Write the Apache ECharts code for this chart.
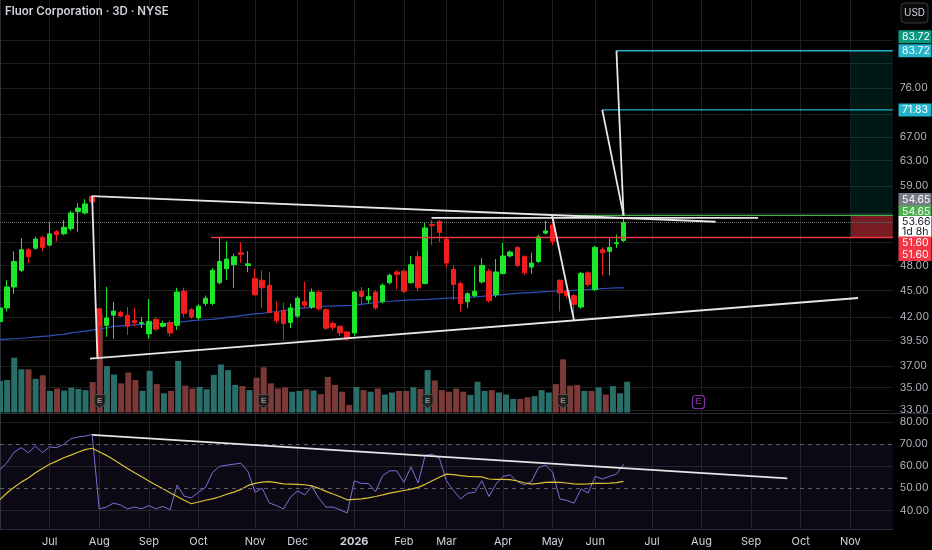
<!DOCTYPE html>
<html lang="en">
<head>
<meta charset="UTF-8">
<title>Fluor Corporation · 3D · NYSE</title>
<script src="https://cdn.jsdelivr.net/npm/echarts@6.0.0/dist/echarts.min.js"></script>
<style>
    html, body { margin: 0; padding: 0; background: #000; }
    #chart { width: 932px; height: 550px; }
</style>
</head>
<body>
<div id="chart"></div>
<script type="text/javascript">
// 3D bars, [open, close, low, high]
var ohlc = [
    [41.5, 43.0, 41.0, 43.3], [43.0, 45.4, 42.6, 46.2], [45.4, 48.5, 44.6, 49.8], [47.4, 50.0, 47.2, 51.5],
    [50.0, 49.1, 48.3, 50.2], [50.2, 51.4, 50.0, 51.7], [51.6, 50.3, 49.8, 51.8], [50.6, 52.1, 50.4, 53.7],
    [52.4, 52.0, 51.1, 52.6], [52.1, 53.0, 51.9, 54.0], [52.8, 55.0, 52.5, 55.3], [55.2, 55.7, 52.4, 56.4],
    [55.0, 56.3, 54.8, 57.0], [57.4, 56.6, 56.3, 57.6], [42.9, 41.1, 37.8, 43.0], [41.1, 41.9, 39.9, 45.4],
    [42.2, 42.65, 39.7, 43.7], [42.5, 42.1, 42.0, 42.7], [42.2, 41.0, 40.1, 43.1], [41.6, 41.4, 41.0, 43.0],
    [41.3, 41.4, 40.8, 42.0], [40.2, 41.5, 39.7, 44.0], [41.75, 40.7, 40.5, 42.0], [41.0, 41.3, 40.9, 41.6],
    [41.4, 40.3, 39.9, 41.6], [41.1, 44.8, 40.6, 45.3], [44.9, 42.4, 42.0, 45.3], [42.8, 42.0, 41.8, 43.0],
    [41.9, 43.2, 41.7, 43.4], [43.5, 44.1, 43.2, 44.4], [43.5, 47.4, 43.3, 47.7], [45.9, 48.5, 45.7, 51.7],
    [47.6, 48.8, 46.2, 51.1], [48.1, 49.1, 45.3, 49.5], [49.6, 49.4, 48.3, 51.0], [48.0, 48.2, 47.2, 49.8],
    [46.4, 44.5, 44.4, 47.6], [46.2, 45.3, 43.0, 47.4], [45.6, 42.5, 42.4, 47.2], [42.5, 41.6, 41.3, 43.7],
    [42.7, 41.3, 39.6, 43.6], [41.4, 43.0, 40.8, 43.5], [42.1, 44.1, 41.9, 44.3], [43.7, 43.3, 43.0, 46.0],
    [43.1, 44.8, 42.9, 45.2], [44.8, 42.9, 42.7, 45.0], [42.8, 40.8, 40.6, 43.0], [41.3, 40.9, 40.6, 41.5],
    [41.0, 40.3, 40.0, 41.1], [40.4, 39.7, 39.5, 40.5], [40.3, 44.8, 40.0, 44.9], [44.9, 44.3, 43.3, 45.4],
    [43.9, 44.3, 43.5, 45.3], [44.8, 43.0, 42.8, 45.0], [43.7, 45.6, 43.5, 45.8], [45.9, 46.8, 45.7, 47.0],
    [47.2, 46.9, 45.1, 47.4], [47.3, 44.9, 44.7, 47.5], [45.9, 48.1, 45.8, 49.2], [49.1, 45.3, 44.9, 49.8],
    [45.8, 52.9, 45.7, 53.6], [53.4, 53.2, 50.6, 54.0], [53.8, 52.3, 51.0, 54.0], [51.4, 48.3, 47.7, 51.6],
    [47.5, 45.7, 43.9, 48.0], [45.8, 43.5, 42.6, 46.0], [43.7, 44.6, 43.0, 44.8], [44.4, 44.9, 44.2, 47.9],
    [46.0, 48.0, 45.8, 48.9], [47.3, 43.8, 43.6, 47.6], [44.5, 47.2, 44.2, 48.8], [47.0, 49.2, 46.9, 50.9],
    [49.2, 49.7, 49.0, 49.9], [50.3, 48.0, 47.8, 50.5], [49.1, 47.1, 46.8, 49.3], [47.8, 48.3, 47.0, 49.6],
    [48.5, 51.7, 48.3, 52.0], [52.2, 52.5, 52.0, 53.9], [53.3, 51.1, 50.6, 54.4], [46.2, 44.7, 42.6, 46.3],
    [44.9, 44.4, 44.1, 45.1], [44.4, 43.4, 41.8, 44.6], [43.1, 47.0, 42.9, 47.2], [47.1, 45.7, 45.4, 47.3],
    [45.1, 50.3, 44.9, 50.5], [50.0, 49.6, 46.8, 50.3], [49.8, 50.3, 46.8, 51.5], [50.8, 50.9, 50.2, 52.0],
    [51.2, 53.66, 51.0, 54.2]
];

// volume, millions of shares
var volume = [
    7.9, 8.1, 13.7, 10.8, 10.8, 8.4, 9.3, 5.4, 6.0, 5.5, 6.2, 5.9, 5.6, 7.6, 24.6, 11.6,
    9.5, 7.3, 10.0, 8.1, 5.4, 10.4, 7.1, 4.8, 5.4, 12.9, 6.7, 6.0, 6.4, 5.8, 9.4, 12.0,
    10.6, 6.9, 6.6, 5.6, 8.7, 11.3, 7.3, 6.0, 6.3, 5.2, 5.4, 5.8, 5.5, 4.6, 8.9, 6.9,
    5.2, 1.9, 6.4, 5.6, 5.2, 6.0, 4.5, 5.0, 5.4, 5.4, 6.3, 5.9, 10.6, 8.0, 5.6, 5.2,
    6.0, 5.2, 4.4, 7.7, 5.4, 5.6, 5.0, 4.5, 3.4, 3.4, 3.8, 4.1, 5.6, 5.0, 7.1, 13.3,
    6.7, 6.9, 5.4, 5.4, 6.3, 4.5, 6.6, 4.8, 7.7
];

// moving average drawn on the price pane
var maLine = [
    39.6, 39.65, 39.7, 39.75, 39.8, 39.9, 39.95, 40.0, 40.1, 40.15, 40.3, 40.4, 40.5, 40.6, 40.7,
    40.85, 41.0, 41.05, 41.1, 41.15, 41.2, 41.25, 41.3, 41.3, 41.35, 41.45, 41.5, 41.6, 41.65, 41.7,
    41.75, 41.85, 41.95, 42.05, 42.15, 42.25, 42.35, 42.4, 42.5, 42.6, 42.7, 42.8, 42.9, 43.0, 43.05,
    43.1, 43.2, 43.2, 43.25, 43.25, 43.3, 43.4, 43.5, 43.6, 43.7, 43.75, 43.8, 43.85, 43.9, 43.9,
    43.95, 44.0, 44.05, 44.1, 44.1, 44.15, 44.2, 44.25, 44.3, 44.4, 44.45, 44.5, 44.6, 44.65, 44.7,
    44.75, 44.8, 44.85, 44.9, 44.9, 44.95, 45.0, 45.05, 45.1, 45.15, 45.2, 45.25, 45.3, 45.3
];

var rsi = [
    58.4, 61.7, 66.4, 68.4, 66.1, 69.1, 66.1, 68.7, 68.4, 69.9, 72.4, 73.2, 73.6, 74.4, 40.7,
    41.5, 43.3, 42.5, 40.7, 41.5, 40.7, 42.2, 40.7, 41.8, 40.3, 51.5, 46.4, 45.7, 48.2, 50.4,
    57.2, 59.9, 60.5, 60.9, 61.4, 57.5, 48.2, 50.0, 43.4, 42.2, 40.7, 46.0, 48.8, 47.0, 50.9,
    45.5, 41.5, 41.5, 40.3, 38.8, 53.4, 52.2, 52.2, 48.5, 55.7, 57.9, 57.9, 52.7, 59.7, 52.4,
    64.9, 65.4, 63.6, 53.4, 49.0, 45.2, 47.8, 48.2, 53.4, 46.3, 51.9, 55.4, 56.1, 53.1, 51.5,
    53.0, 59.4, 60.5, 57.2, 45.2, 44.5, 43.3, 49.7, 47.9, 55.4, 54.2, 55.4, 56.4, 60.9
];

var rsiMa = [
    44.9, 48.0, 50.5, 52.8, 54.7, 57.0, 59.0, 60.9, 62.3, 63.8, 65.0, 66.3, 67.5, 68.1, 66.5,
    64.9, 63.0, 61.0, 59.0, 57.0, 55.2, 53.3, 51.5, 49.8, 48.0, 46.3, 44.6, 43.0, 43.8, 44.6,
    45.2, 46.2, 47.3, 48.3, 49.5, 51.3, 52.2, 52.8, 53.0, 52.6, 52.0, 51.9, 51.8, 51.6, 51.1,
    50.0, 48.6, 47.4, 46.2, 44.8, 45.0, 45.2, 45.7, 46.3, 47.0, 47.8, 48.4, 49.0, 49.6, 50.4,
    51.8, 53.4, 55.0, 56.4, 56.2, 55.7, 55.4, 55.3, 55.2, 54.2, 54.0, 54.0, 53.9, 53.3, 52.5,
    51.9, 52.2, 52.7, 52.8, 52.7, 52.4, 52.0, 51.9, 52.0, 52.2, 52.2, 52.3, 52.6, 53.1
];

// bar index -> time axis label
var monthTicks = {
    7: 'Jul', 14: 'Aug', 21: 'Sep', 28: 'Oct', 36: 'Nov', 42: 'Dec', 50: '2026', 57: 'Feb', 63: 'Mar',
    71: 'Apr', 78: 'May', 84: 'Jun', 92: 'Jul', 99: 'Aug', 106: 'Sep', 113: 'Oct', 120: 'Nov'
};
var priceLabels = [33, 35, 37, 39.5, 42, 45, 48, 59, 63, 67, 76];
var priceGrid = [33, 35, 37, 39.5, 42, 45, 48, 51, 55, 59, 63, 67, 71, 76, 81, 86];
var rsiLabels = [40, 50, 60, 70, 80];
var rsiGrid = [40, 60, 80];

// position tool levels
var target = 83.72, target2 = 71.83, entry = 54.65, lastPrice = 53.66, stop = 51.60;

// drawings as [bar index, price]
var channelTop = [[13, 57.46], [101, 53.76]];
var channelBottom = [[12.7, 37.7], [121.1, 44.12]];
var gapDrop = [[13, 57.46], [13.75, 37.7]];
var rangeTop = [[60.9, 54.3], [107, 54.3]];
var mayDrop = [[77.9, 54.7], [81, 41.67]];
var projHigh = [[88, entry], [87, target]];
var projLow = [[88, entry], [85, target2]];
var rsiTrend = [[13, 74.2], [111.1, 54.5]];
var earnings = [14, 37, 60, 79];
var nextEarnings = [98];

var NBARS = 127;
var holidays = ['2025-06-19', '2025-07-04', '2025-09-01', '2025-11-27', '2025-12-25', '2026-01-01',
    '2026-01-19', '2026-02-16', '2026-04-03', '2026-05-25', '2026-06-19', '2026-07-03', '2026-09-07', '2026-11-26'];
var dates = [];
(function () {
    var d = new Date(Date.UTC(2025, 5, 2)), n = 0;
    while (dates.length < NBARS) {
        var s = d.toISOString().slice(0, 10), wd = d.getUTCDay();
        if (wd > 0 && wd < 6 && holidays.indexOf(s) < 0) {
            if (n % 3 === 0) dates.push(s);
            n++;
        }
        d.setUTCDate(d.getUTCDate() + 1);
    }
})();

var UP = '#1ee62d', DOWN = '#f21d1d';
var GRIDC = '#1e1e1e', TXT = '#b2b5be', FONT = 'Inter, sans-serif';
var SHIELD = 'path://M1,0 L9,0 Q10,0 10,1 L10,9 L5,13 L0,9 L0,1 Q0,0 1,0 Z';
var isMonth = function (i) { return monthTicks[i] !== undefined; };

var volData = volume.map(function (v, i) {
    var up = ohlc[i][1] >= ohlc[i][0];
    return { value: v, itemStyle: { color: up ? '#2a6e69' : '#7b3938' } };
});

function seg(points, color, width, type, z) {
    return {
        type: 'line', xAxisIndex: 1, yAxisIndex: 0, data: points, symbol: 'none', silent: true,
        lineStyle: { color: color, width: width, type: type || 'solid' }, z: z || 6
    };
}
var END = NBARS - 1;

var chart = echarts.init(document.getElementById('chart'));
var option = {
    backgroundColor: '#000',
    animation: false,
    grid: [
        { left: 0, right: 34, top: 0, height: 413 },
        { left: 0, right: 34, top: 308.5, height: 104 },
        { left: 0, right: 34, top: 414, height: 115 }
    ],
    xAxis: [
        { type: 'category', gridIndex: 0, data: dates, boundaryGap: false,
          axisLine: { show: false }, axisTick: { show: false }, axisLabel: { show: false },
          splitLine: { show: true, interval: isMonth, lineStyle: { color: GRIDC } } },
        { type: 'value', gridIndex: 0, min: 0, max: END, show: false },
        { type: 'category', gridIndex: 1, data: dates, boundaryGap: false, show: false },
        { type: 'category', gridIndex: 2, data: dates, boundaryGap: false,
          axisLine: { show: true, lineStyle: { color: '#2a2e39' } }, axisTick: { show: false },
          axisLabel: {
              interval: isMonth, color: '#d1d4dc', fontSize: 11, fontFamily: FONT, margin: 7,
              formatter: function (v, i) {
                  var t = monthTicks[i] || '';
                  return t === '2026' ? '{b|2026}' : t;
              },
              rich: { b: { fontWeight: 'bold', color: '#d1d4dc', fontSize: 11, fontFamily: FONT } }
          },
          splitLine: { show: true, interval: isMonth, lineStyle: { color: GRIDC } } },
        { type: 'value', gridIndex: 2, min: 0, max: END, show: false }
    ],
    yAxis: [
        { type: 'log', gridIndex: 0, position: 'right', min: 32.75, max: 95.5,
          axisLine: { show: true, lineStyle: { color: '#2a2e39' } },
          axisTick: { show: false, customValues: priceGrid },
          axisLabel: { customValues: priceLabels, color: TXT, fontSize: 10.5, fontFamily: FONT, margin: 7,
                       formatter: function (v) { return v.toFixed(2); } },
          splitLine: { show: true, lineStyle: { color: GRIDC } } },
        { type: 'value', gridIndex: 1, min: 0, max: 26, show: false },
        { type: 'value', gridIndex: 2, position: 'right', min: 31.6, max: 83.6,
          axisLine: { show: true, lineStyle: { color: '#2a2e39' } },
          axisTick: { show: false, customValues: rsiGrid },
          axisLabel: { customValues: rsiLabels, color: TXT, fontSize: 10.5, fontFamily: FONT, margin: 7,
                       formatter: function (v) { return v.toFixed(2); } },
          splitLine: { show: true, lineStyle: { color: GRIDC } } }
    ],
    series: [
        { type: 'bar', xAxisIndex: 2, yAxisIndex: 1, data: volData, barWidth: 6, z: 1, silent: true },
        { type: 'scatter', xAxisIndex: 2, yAxisIndex: 1, data: earnings.map(function (k) { return [k, 0]; }),
          symbol: SHIELD, symbolSize: [11, 14], symbolOffset: [0, -11], z: 4, silent: true,
          itemStyle: { color: '#1a1a1a', borderColor: '#555', borderWidth: 1 },
          label: { show: true, formatter: 'E', color: '#a8a8a8', fontSize: 8, fontWeight: 'bold',
                   position: 'inside', offset: [0, -1] } },
        { type: 'scatter', xAxisIndex: 2, yAxisIndex: 1, data: nextEarnings.map(function (k) { return [k, 0]; }),
          symbol: 'roundRect', symbolSize: [12, 13], symbolOffset: [0, -10.5], z: 4, silent: true,
          itemStyle: { color: '#000', borderColor: '#a43bd0', borderWidth: 1.2 },
          label: { show: true, formatter: 'E', color: '#b548e0', fontSize: 9, position: 'inside' } },
        { type: 'line', xAxisIndex: 0, yAxisIndex: 0, data: maLine, symbol: 'none', silent: true,
          lineStyle: { color: '#2f4fb8', width: 1.2 }, z: 3 },
        { type: 'candlestick', xAxisIndex: 0, yAxisIndex: 0, data: ohlc, barWidth: 5, z: 5, silent: true,
          itemStyle: { color: UP, color0: DOWN, borderColor: UP, borderColor0: DOWN, borderWidth: 1 } },
        // position tool zones
        { type: 'line', xAxisIndex: 1, yAxisIndex: 0, data: [], silent: true, z: 2,
          markArea: { silent: true, data: [
              [{ coord: [120.1, entry], itemStyle: { color: 'rgba(8,153,129,0.16)' } }, { coord: [END, target] }],
              [{ coord: [120.1, stop], itemStyle: { color: 'rgba(242,54,69,0.5)' } }, { coord: [END, entry] }]
          ] } },
        seg([[0, lastPrice], [END, lastPrice]], '#6f6f6f', 1, 'dotted', 4),
        seg([[29.8, stop], [END, stop]], '#f23645', 1.6),
        seg([[77.9, entry], [END, entry]], '#4caf50', 1.3),
        seg([[87, target], [END, target]], '#26b3c9', 1.4),
        seg([[85, target2], [END, target2]], '#26b3c9', 1.4),
        seg(channelTop, '#e6e6e6', 1.8),
        seg(channelBottom, '#e6e6e6', 1.8),
        seg(gapDrop, '#e6e6e6', 1.8),
        seg(rangeTop, '#e6e6e6', 1.8),
        seg(mayDrop, '#e6e6e6', 1.8),
        seg(projHigh, '#e6e6e6', 1.8),
        seg(projLow, '#e6e6e6', 1.8),
        { type: 'line', xAxisIndex: 3, yAxisIndex: 2, data: rsi, symbol: 'none', silent: true, z: 4,
          lineStyle: { color: '#7e6fd6', width: 1 },
          markArea: { silent: true, itemStyle: { color: 'rgba(126,87,194,0.1)' }, data: [[{ yAxis: 70 }, { yAxis: 30 }]] },
          markLine: { silent: true, symbol: 'none', label: { show: false },
                      lineStyle: { color: '#5d6069', type: [4, 4], width: 1 },
                      data: [{ yAxis: 70 }, { yAxis: 50 }, { yAxis: 30 }] } },
        { type: 'line', xAxisIndex: 3, yAxisIndex: 2, data: rsiMa, symbol: 'none', silent: true, z: 4,
          lineStyle: { color: '#d8c236', width: 1.2 } },
        { type: 'line', xAxisIndex: 4, yAxisIndex: 2, data: rsiTrend, symbol: 'none', silent: true, z: 6,
          lineStyle: { color: '#e6e6e6', width: 1.8 } }
    ]
};
chart.setOption(option);

// right-scale price tags, placed from the price axis
var priceTags = [
    { value: target, text: '83.72', bg: '#089981', color: '#fff', dy: -14, h: 13 },
    { value: target, text: '83.72', bg: '#22b5cc', color: '#fff', dy: 0, h: 13 },
    { value: target2, text: '71.83', bg: '#22b5cc', color: '#fff', dy: 0, h: 13 },
    { value: entry, text: '54.65', bg: '#787b86', color: '#fff', dy: -16, h: 13 },
    { value: entry, text: '54.65', bg: '#4caf50', color: '#fff', dy: -4, h: 12 },
    { value: lastPrice, text: '53.66\n1d 8h', bg: '#ffffff', color: '#131722', dy: 4.5, h: 22 },
    { value: stop, text: '51.60', bg: '#f23645', color: '#fff', dy: 5, h: 12 },
    { value: stop, text: '51.60', bg: '#f23645', color: '#fff', dy: 17, h: 13 }
];
var tags = [];
priceTags.forEach(function (t) {
    var y = chart.convertToPixel({ yAxisIndex: 0 }, t.value) + t.dy;
    tags.push({ type: 'rect', z: 100, shape: { x: 898.5, y: y - t.h / 2, width: 33, height: t.h },
                style: { fill: t.bg } });
    tags.push({ type: 'text', x: 902, y: y, z: 101,
                style: { text: t.text, fill: t.color, fontSize: 10.5, fontFamily: FONT, lineHeight: 10.5,
                         align: 'left', verticalAlign: 'middle' } });
});
chart.setOption({
    graphic: [
        { type: 'text', x: 5, y: 6, z: 100,
          style: { text: 'Fluor Corporation · 3D · NYSE', fill: '#d1d4dc', fontSize: 11.5, fontWeight: 600, fontFamily: FONT } },
        { type: 'rect', shape: { x: 901, y: 3, width: 27, height: 20, r: 4 }, z: 100,
          style: { fill: '#0a0a0a', stroke: '#3a3d45', lineWidth: 1 } },
        { type: 'text', x: 914.5, y: 13, z: 101,
          style: { text: 'USD', fill: '#d1d4dc', fontSize: 10, fontFamily: FONT, align: 'center', verticalAlign: 'middle' } },
        { type: 'line', shape: { x1: 0, y1: 413.5, x2: 932, y2: 413.5 }, z: 100,
          style: { stroke: '#2a2e39', lineWidth: 1 } }
    ].concat(tags)
});
</script>
</body>
</html>
